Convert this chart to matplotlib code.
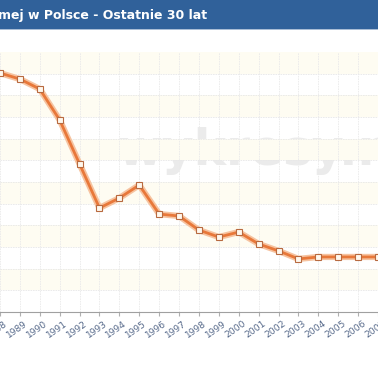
import matplotlib
matplotlib.use("Agg")
import matplotlib.pyplot as plt
from matplotlib.patches import Rectangle
from matplotlib.transforms import ScaledTranslation

# data (y axis labels are cropped away, so the unit is arbitrary)
years = list(range(1987, 2008))
values = [111.0, 110.3, 107.5, 102.9, 88.6, 68.3, 48.0, 52.6, 58.6, 45.2, 44.3,
          37.8, 34.6, 36.9, 31.4, 28.2, 24.5, 25.4, 25.4, 25.4, 25.4]
tick_years = list(range(1988, 2008))
title = "mej w Polsce - Ostatnie 30 lat"

W, H = 378, 370
fig = plt.figure(figsize=(W / 100, H / 100), dpi=100)
fig.patch.set_facecolor("white")

# header bar
fig.patches.append(Rectangle((0, 1 - 29 / H), 1, 29 / H, transform=fig.transFigure,
                             facecolor="#30619a", edgecolor="none", zorder=0))
fig.patches.append(Rectangle((0, 1 - 30 / H), 1, 1 / H, transform=fig.transFigure,
                             facecolor="#a9bdd5", edgecolor="none", zorder=0))
fig.text(-0.004, 1 - 16 / H, title, color="white", fontsize=9, fontweight="bold",
         va="center", ha="left", family="DejaVu Sans")

ax = fig.add_axes([0, 1 - 312 / H, 1, 260 / H])
ymin, ymax, step = 0, 120, 10
ax.set_ylim(ymin, ymax)
ax.set_xlim(1988, 1988 + 378 / 20.65)

# alternating bands
for lo in range(ymin, ymax, step):
    if (ymax - lo) // step % 2 == 1:
        ax.axhspan(lo, lo + step, color="#fefcf2", lw=0, zorder=0)
for v in range(ymin + step, ymax, step):
    ax.axhline(v, color="#e8e8e8", lw=0.6, ls=(0, (2, 1)), zorder=1)
for yr in tick_years:
    ax.axvline(yr, color="#eaeaea", lw=0.6, ls=(0, (2, 1)), zorder=1)

# watermark
fig.text(117 / W, 1 - 165 / H, "wykresy.net", fontsize=35, fontweight="bold",
         color="#ebebeb", ha="left", va="baseline", zorder=1.5)
ax.set_zorder(2)
ax.patch.set_alpha(0)

ax.plot(years, values, color="#f6c3a0", lw=4.5, solid_capstyle="round", zorder=2)
ax.plot(years, values, color="#e8783a", lw=2.0, zorder=3, marker="s", markersize=5,
        markerfacecolor="#fff8ee", markeredgecolor="#b86a40", markeredgewidth=0.8)

for s in ["top", "right", "left"]:
    ax.spines[s].set_visible(False)
ax.spines["bottom"].set_color("#a0a0a0")
ax.spines["bottom"].set_linewidth(0.8)
ax.set_yticks([])
ax.set_xticks(tick_years)
ax.set_xticklabels([str(y) for y in tick_years], rotation=35, ha="right",
                   rotation_mode="anchor", fontsize=6.6, color="#56698a")
ax.tick_params(axis="x", length=3, color="#b0b0b0", pad=2)
shift = ScaledTranslation(4 / 100, 0, fig.dpi_scale_trans)
for lbl in ax.get_xticklabels():
    lbl.set_transform(lbl.get_transform() + shift)

fig.savefig("out.png", dpi=100)
